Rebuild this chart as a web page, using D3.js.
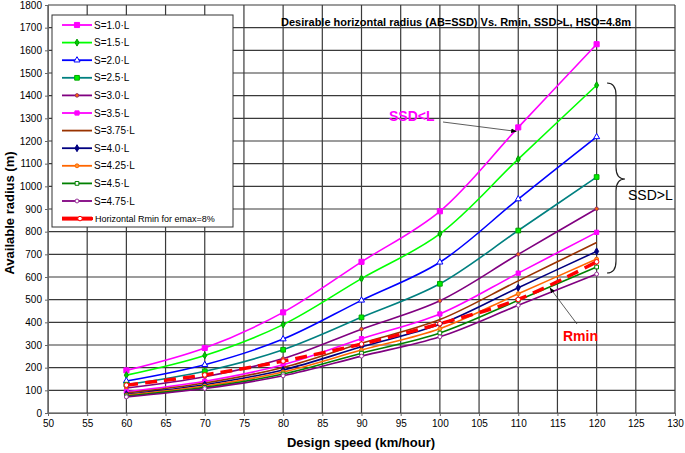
<!DOCTYPE html>
<html lang="en">
<head>
<meta charset="UTF-8">
<script src="https://d3js.org/d3.v7.min.js"></script>
<title>Desirable horizontal radius vs Rmin</title>
<style>
  html, body { margin: 0; padding: 0; background: #fff; overflow: hidden; }
  text { font-family: "Liberation Sans", Arial, sans-serif; fill: #000; }
  .tick text { font-size: 10px; }
</style>
</head>
<body>
<script>
// design speeds (km/h) and radii (m)
const speeds = [60, 70, 80, 90, 100, 110, 120];
const s10  = [188, 287, 444, 667, 890, 1260, 1627];
const s15  = [167, 254, 390, 593, 790, 1120, 1446];
const s20  = [141, 213, 326, 497, 665, 944, 1218];
const s25  = [125, 184, 279, 422, 570, 805, 1041];
const s30  = [110, 160, 240, 370, 495, 700, 901];
const s35  = [94, 140, 213, 328, 437, 617, 797];
const s375 = [88, 132, 201, 308, 412, 583, 752];
const s40  = [83, 125, 190, 292, 391, 553, 713];
const s425 = [79, 119, 181, 278, 372, 526, 679];
const s45  = [75, 113, 172, 264, 353, 497, 644];
const s475 = [71, 108, 164, 251, 336, 475, 613];
const rmin = [123, 168, 229, 304, 394, 501, 667];

const labels = ["S=1.0·L", "S=1.5·L", "S=2.0·L", "S=2.5·L", "S=3.0·L", "S=3.5·L",
  "S=3.75·L", "S=4.0·L", "S=4.25·L", "S=4.5·L", "S=4.75·L", "Horizontal Rmin for emax=8%"];
const values = [s10, s15, s20, s25, s30, s35, s375, s40, s425, s45, s475, rmin];
const xTicks = d3.range(50, 131, 5);
const yTicks = d3.range(0, 1801, 100);

// line + marker style per series
const styles = [
  { line: "#ff00ff", sym: d3.symbolSquare, size: 26, fill: "#ff00ff", stroke: "#ff00ff" },
  { line: "#00ff00", sym: d3.symbolDiamond, size: 14, fill: "#00cc00", stroke: "#009900" },
  { line: "#0000ff", sym: d3.symbolTriangle, size: 16, fill: "#fff", stroke: "#0000ff" },
  { line: "#008080", sym: d3.symbolSquare, size: 22, fill: "#00ee00", stroke: "#00aa00" },
  { line: "#800080", sym: d3.symbolCircle, size: 10, fill: "#ff6600", stroke: "#993366" },
  { line: "#ff00ff", sym: d3.symbolSquare, size: 18, fill: "#ff00ff", stroke: "#ff00ff" },
  { line: "#993300", sym: null },
  { line: "#000080", sym: d3.symbolDiamond, size: 14, fill: "#000080", stroke: "#000080" },
  { line: "#ff6600", sym: d3.symbolCircle, size: 12, fill: "#ff9933", stroke: "#ff6600" },
  { line: "#008000", sym: d3.symbolSquare, size: 14, fill: "#fff", stroke: "#008000" },
  { line: "#800080", sym: d3.symbolCircle, size: 12, fill: "#fff", stroke: "#993399" },
  { line: "#ff0000", sym: d3.symbolCircle, size: 16, fill: "#fff", stroke: "#ff0000", width: 3.5, dash: "12,7" }
];

const width = 685, height = 453;
const margin = { top: 5, right: 10, bottom: 40, left: 48 };

const svg = d3.select("body").append("svg")
  .attr("width", width)
  .attr("height", height);

const x = d3.scaleLinear().domain([50, 130]).range([margin.left, width - margin.right]);
const y = d3.scaleLinear().domain([0, 1800]).range([height - margin.bottom, margin.top]);

// grid
svg.append("g").selectAll("line").data(xTicks).join("line")
  .attr("x1", d => x(d)).attr("x2", d => x(d))
  .attr("y1", y(0)).attr("y2", y(1800))
  .attr("stroke", "#3a3a3a").attr("stroke-width", 1.2);
svg.append("g").selectAll("line").data(yTicks).join("line")
  .attr("x1", x(50)).attr("x2", x(130))
  .attr("y1", d => y(d)).attr("y2", d => y(d))
  .attr("stroke", "#3a3a3a").attr("stroke-width", 1.2);

// axes
const yAxis = svg.append("g")
  .attr("transform", `translate(${margin.left},0)`)
  .call(d3.axisLeft(y).tickValues(yTicks).tickFormat(d3.format("d")).tickSize(3).tickPadding(3));
const xAxis = svg.append("g")
  .attr("transform", `translate(0,${height - margin.bottom})`)
  .call(d3.axisBottom(x).tickValues(xTicks).tickFormat(d3.format("d")).tickSize(3).tickPadding(4));
[yAxis, xAxis].forEach(a => {
  a.select(".domain").attr("stroke", "#666");
  a.selectAll(".tick line").attr("stroke", "#666");
});

// series
const line = d3.line()
  .x((d, i) => x(speeds[i]))
  .y(d => y(d))
  .curve(d3.curveCatmullRom);

values.forEach((vals, k) => {
  const st = styles[k];
  svg.append("path")
    .datum(vals)
    .attr("d", line)
    .attr("fill", "none")
    .attr("stroke", st.line)
    .attr("stroke-width", st.width || 1.6)
    .attr("stroke-dasharray", st.dash || null);
  if (st.sym) {
    svg.append("g").selectAll("path").data(vals).join("path")
      .attr("transform", (d, i) => `translate(${x(speeds[i])},${y(d)})`)
      .attr("d", d3.symbol().type(st.sym).size(st.size))
      .attr("fill", st.fill)
      .attr("stroke", st.stroke)
      .attr("stroke-width", 1);
  }
});

// title
const title = svg.append("text")
  .attr("x", 456).attr("y", 26)
  .attr("text-anchor", "middle")
  .attr("font-size", 11).attr("font-weight", "bold");
title.append("tspan").text("Desirable horizontal radius (AB=SSD) Vs. Rmin, SSD>L, ");
title.append("tspan").attr("text-decoration", "underline").text("HSO=4.8m");

// axis titles
svg.append("text")
  .attr("transform", `translate(14,${(y(0) + y(1800)) / 2 + 4}) rotate(-90)`)
  .attr("text-anchor", "middle")
  .attr("font-size", 13).attr("font-weight", "bold")
  .text("Available radius (m)");
svg.append("text")
  .attr("x", 361).attr("y", 447)
  .attr("text-anchor", "middle")
  .attr("font-size", 13).attr("font-weight", "bold")
  .text("Design speed (km/hour)");

// annotations
svg.append("defs").append("marker")
  .attr("id", "arrow")
  .attr("viewBox", "0 0 10 10")
  .attr("refX", 9).attr("refY", 5)
  .attr("markerWidth", 7).attr("markerHeight", 7)
  .attr("orient", "auto")
  .append("path").attr("d", "M0,1 L10,5 L0,9 Z").attr("fill", "#000");

svg.append("text")
  .attr("x", 389).attr("y", 121)
  .attr("font-size", 14).attr("font-weight", "bold")
  .style("fill", "#ff00ff")
  .text("SSD<L");
svg.append("line")
  .attr("x1", 443).attr("y1", 122)
  .attr("x2", x(110) - 2).attr("y2", y(1260) + 4)
  .attr("stroke", "#333").attr("stroke-width", 0.8)
  .attr("marker-end", "url(#arrow)");

svg.append("text")
  .attr("x", 563).attr("y", 341)
  .attr("font-size", 14).attr("font-weight", "bold")
  .style("fill", "#ff0000")
  .text("Rmin");
svg.append("line")
  .attr("x1", 577).attr("y1", 324)
  .attr("x2", 550).attr("y2", 288)
  .attr("stroke", "#333").attr("stroke-width", 0.8)
  .attr("marker-end", "url(#arrow)");

// brace for SSD>L
svg.append("path")
  .attr("d", "M607,83 Q616,83 616,95 L616,167 Q616,179 625,179 Q616,179 616,191 L616,261 Q616,273 607,273")
  .attr("fill", "none").attr("stroke", "#222").attr("stroke-width", 1.2);
svg.append("text")
  .attr("x", 628).attr("y", 200)
  .attr("font-size", 14)
  .text("SSD>L");

// legend
const legend = svg.append("g").attr("transform", "translate(52,15)");
legend.append("rect")
  .attr("width", 181).attr("height", 212)
  .attr("fill", "#fff").attr("stroke", "#333").attr("stroke-width", 1);

labels.forEach((lab, k) => {
  const st = styles[k];
  const ly = 10 + k * 17.6;
  legend.append("line")
    .attr("x1", 10).attr("x2", 40)
    .attr("y1", ly).attr("y2", ly)
    .attr("stroke", st.line)
    .attr("stroke-width", k === 11 ? 4 : 1.8);
  if (st.sym) {
    legend.append("path")
      .attr("transform", `translate(${k === 11 ? 28 : 25},${ly})`)
      .attr("d", d3.symbol().type(st.sym).size(st.size))
      .attr("fill", st.fill).attr("stroke", st.stroke);
  }
  if (k === 11) {
    legend.append("rect")
      .attr("x", 38).attr("y", ly - 1.5)
      .attr("width", 3).attr("height", 3)
      .attr("fill", "#ff0000");
  }
  legend.append("text")
    .attr("x", k === 11 ? 43 : 42).attr("y", ly + 3.5)
    .attr("font-size", k === 11 ? 9 : 10)
    .text(lab);
});
</script>
</body>
</html>
